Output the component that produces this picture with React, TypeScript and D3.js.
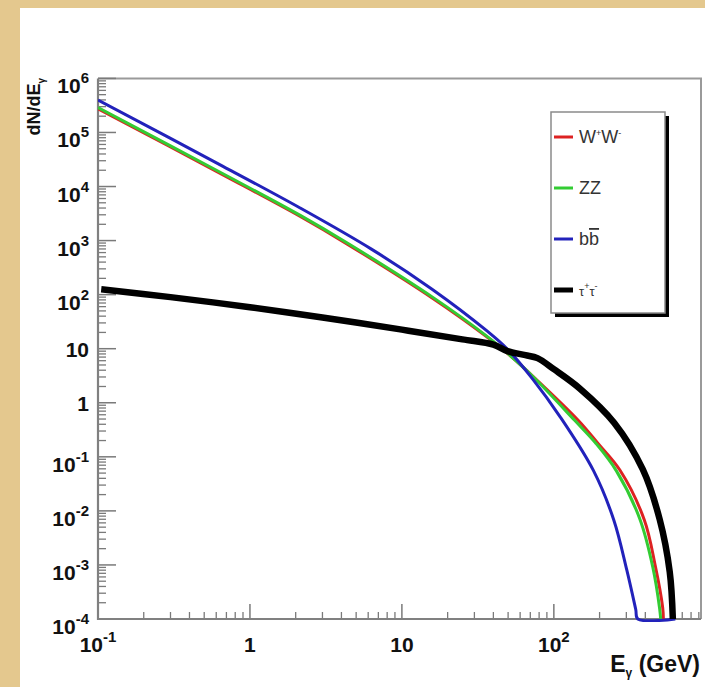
import React, { useRef, useEffect } from "react";
import * as d3 from "d3";

// photon spectra: energy (GeV) and dN/dE
const wwE = [0.1, 0.66, 2.13, 4.4, 16, 36, 50, 72.8, 144, 196, 272, 394, 464, 520, 526];
const wwN = [2.75e5, 1.66e4, 2.82e3, 851, 85, 16.8, 8.0, 3.09, 0.48, 0.175, 0.057, 0.0068, 1.0e-3, 1.66e-4, 1e-4];

const zzE = [0.1, 0.66, 2.13, 4.4, 16, 36, 50, 72.8, 137, 190, 258, 368, 448, 497, 505];
const zzN = [2.88e5, 1.74e4, 2.95e3, 891, 89, 17.3, 8.07, 3.06, 0.473, 0.175, 0.055, 0.0071, 9.1e-4, 1.55e-4, 1e-4];

const bbE = [0.1, 0.66, 2.14, 6.3, 15.8, 36.3, 49, 72.4, 110, 182, 248, 302, 346, 357, 630];
const bbN = [3.98e5, 2.39e4, 4.01e3, 695, 126, 21.3, 10.1, 2.77, 0.55, 0.056, 0.0068, 8.1e-4, 1.5e-4, 1e-4, 1e-4];

const ttE = [0.105, 0.3, 1, 3, 10, 25, 40, 49.5, 65, 78, 100, 148, 250, 385, 497, 579, 607];
const ttN = [126, 90, 58.5, 37.8, 22.5, 14.9, 11.9, 9.0, 7.6, 6.7, 4.18, 1.84, 0.423, 0.0583, 0.007, 7.46e-4, 1e-4];

const seriesNames = ["WW", "ZZ", "bb", "tautau"];
const seriesColors = ["#dd2222", "#33cc33", "#2222bb", "#000000"];
const seriesWidths = [3, 3, 3, 6.5];

// tick labels: [base, superscript]
const yTickValues = [1e-4, 1e-3, 1e-2, 1e-1, 1, 10, 1e2, 1e3, 1e4, 1e5, 1e6];
const yTickLabels = [["10", "-4"], ["10", "-3"], ["10", "-2"], ["10", "-1"], ["1", ""], ["10", ""], ["10", "2"], ["10", "3"], ["10", "4"], ["10", "5"], ["10", "6"]];
const xTickValues = [0.1, 1, 10, 100];
const xTickLabels = [["10", "-1"], ["1", ""], ["10", ""], ["10", "2"]];

// legend entries as [text, kind] pieces
const legendParts = [
    [["W", ""], ["+", "sup"], ["W", ""], ["-", "sup"]],
    [["ZZ", ""]],
    [["b", ""], ["b", "over"]],
    [["\u03c4", ""], ["+", "sup"], ["\u03c4", ""], ["-", "sup"]],
];

const FONT = "'Liberation Sans', Arial, Helvetica, sans-serif";

const App = () => {
    const ref = useRef(null);

    useEffect(() => {
        const svg = d3.select(ref.current);
        svg.selectAll("*").remove();

        const W = 705, H = 687;
        const left = 98, right = 701, top = 78.4, bottom = 619;

        // parchment background + white sheet
        svg.append("rect").attr("width", W).attr("height", H).attr("fill", "#e4c88e");
        svg.append("rect").attr("x", 20).attr("y", 8).attr("width", W - 20).attr("height", H - 8).attr("fill", "#ffffff");

        svg.append("defs").append("clipPath").attr("id", "plot-clip")
            .append("rect")
            .attr("x", left).attr("y", top)
            .attr("width", right - left).attr("height", bottom - top + 3);

        const x = d3.scaleLog().domain([0.1, 930]).range([left, right]);
        const y = d3.scaleLog().domain([1e-4, 1e6]).range([bottom, top]);

        // frame (top + right)
        svg.append("path")
            .attr("d", `M${left},${top}H${right}V${bottom}`)
            .attr("fill", "none")
            .attr("stroke", "#9a9a9a")
            .attr("stroke-width", 2);

        // y ticks (inside, to the right)
        const yMinor = [];
        for (let k = -4; k < 6; k++) {
            for (let m = 2; m <= 9; m++) yMinor.push(m * Math.pow(10, k));
        }
        svg.append("g").selectAll("line.ymin")
            .data(yMinor)
            .join("line")
            .attr("x1", left).attr("x2", left + 8)
            .attr("y1", (d) => y(d)).attr("y2", (d) => y(d))
            .attr("stroke", "#7a7a7a").attr("stroke-width", 1.3);
        svg.append("g").selectAll("line.ymaj")
            .data(yTickValues)
            .join("line")
            .attr("x1", left).attr("x2", left + 18)
            .attr("y1", (d) => y(d)).attr("y2", (d) => y(d))
            .attr("stroke", "#7a7a7a").attr("stroke-width", 1.5);

        // x ticks (inside, upward)
        const xMinor = [];
        for (let k = -1; k < 3; k++) {
            for (let m = 2; m <= 9; m++) xMinor.push(m * Math.pow(10, k));
        }
        svg.append("g").selectAll("line.xmin")
            .data(xMinor.filter((d) => d <= 930))
            .join("line")
            .attr("x1", (d) => x(d)).attr("x2", (d) => x(d))
            .attr("y1", bottom).attr("y2", bottom - 7)
            .attr("stroke", "#7a7a7a").attr("stroke-width", 1.3);
        svg.append("g").selectAll("line.xmaj")
            .data(xTickValues)
            .join("line")
            .attr("x1", (d) => x(d)).attr("x2", (d) => x(d))
            .attr("y1", bottom).attr("y2", bottom - 15)
            .attr("stroke", "#7a7a7a").attr("stroke-width", 1.5);

        // axis lines
        svg.append("path")
            .attr("d", `M${left},${top}V${bottom}H${right}`)
            .attr("fill", "none")
            .attr("stroke", "#808080")
            .attr("stroke-width", 2.2);

        // y tick labels
        yTickValues.forEach((v, i) => {
            const [base, sup] = yTickLabels[i];
            const t = svg.append("text")
                .attr("x", 89)
                .attr("y", y(v) + (sup ? 15 : 8))
                .attr("text-anchor", "end")
                .style("font-family", FONT)
                .style("font-weight", "bold")
                .style("font-size", "21px")
                .attr("fill", "#111");
            t.append("tspan").text(base);
            if (sup) t.append("tspan").attr("dy", -10).style("font-size", "15px").text(sup);
        });

        // x tick labels
        xTickValues.forEach((v, i) => {
            const [base, sup] = xTickLabels[i];
            const t = svg.append("text")
                .attr("x", x(v))
                .attr("y", 652)
                .attr("text-anchor", "middle")
                .style("font-family", FONT)
                .style("font-weight", "bold")
                .style("font-size", "21px")
                .attr("fill", "#111");
            t.append("tspan").text(base);
            if (sup) t.append("tspan").attr("dy", -10).style("font-size", "15px").text(sup);
        });

        // axis titles
        const xt = svg.append("text")
            .attr("x", 700).attr("y", 672)
            .attr("text-anchor", "end")
            .style("font-family", FONT).style("font-weight", "bold").style("font-size", "23px")
            .attr("fill", "#111");
        xt.append("tspan").text("E");
        xt.append("tspan").attr("dy", 5).style("font-size", "12px").text("\u03b3");
        xt.append("tspan").attr("dy", -5).text(" (GeV)");

        const yt = svg.append("text")
            .attr("transform", "translate(40,78) rotate(-90)")
            .attr("text-anchor", "end")
            .style("font-family", FONT).style("font-weight", "bold").style("font-size", "18px")
            .attr("fill", "#111");
        yt.append("tspan").text("dN/dE");
        yt.append("tspan").attr("dy", 5).style("font-size", "10px").text("\u03b3");

        // curves
        const allE = [wwE, zzE, bbE, ttE];
        const allN = [wwN, zzN, bbN, ttN];
        const line = d3.line()
            .x((d) => x(d[0]))
            .y((d) => y(d[1]))
            .curve(d3.curveCatmullRom.alpha(0.5));

        const curves = svg.append("g").attr("clip-path", "url(#plot-clip)");
        seriesNames.forEach((name, i) => {
            const pts = allE[i].map((e, j) => [e, allN[i][j]]);
            curves.append("path")
                .datum(pts)
                .attr("class", "line-" + name)
                .attr("d", line)
                .attr("fill", "none")
                .attr("stroke", seriesColors[i])
                .attr("stroke-width", seriesWidths[i])
                .attr("stroke-linejoin", "round");
        });

        // legend box with ROOT-style shadow
        const lx = 551, ly = 112, lw = 114, lh = 201;
        svg.append("rect")
            .attr("x", lx + 4).attr("y", ly + 4).attr("width", lw).attr("height", lh)
            .attr("fill", "#000");
        svg.append("rect")
            .attr("x", lx).attr("y", ly).attr("width", lw).attr("height", lh)
            .attr("fill", "#fff").attr("stroke", "#8a8a8a").attr("stroke-width", 1.5);

        const legendY = d3.scalePoint().domain(seriesNames).range([137, 290]);
        seriesNames.forEach((name, i) => {
            const ey = legendY(name);
            svg.append("line")
                .attr("x1", lx + 3).attr("x2", lx + 22)
                .attr("y1", ey).attr("y2", ey)
                .attr("stroke", seriesColors[i])
                .attr("stroke-width", i === 3 ? 5 : 3);
            const t = svg.append("text")
                .attr("x", lx + 28).attr("y", ey + 6)
                .style("font-family", FONT)
                .style("font-size", i === 3 ? "13px" : "18px")
                .attr("fill", "#333");
            let raised = false;
            legendParts[i].forEach(([txt, kind]) => {
                const ts = t.append("tspan").text(txt);
                if (kind === "sup") {
                    ts.attr("dy", -7).style("font-size", "9px");
                    raised = true;
                } else {
                    if (raised) { ts.attr("dy", 7); raised = false; }
                    if (kind === "over") ts.style("text-decoration", "overline");
                }
            });
        });
    }, []);

    return (
        <svg ref={ref} width={705} height={687} style={{ display: "block", position: "absolute", left: 0, top: 0 }} />
    );
};

export default App;
